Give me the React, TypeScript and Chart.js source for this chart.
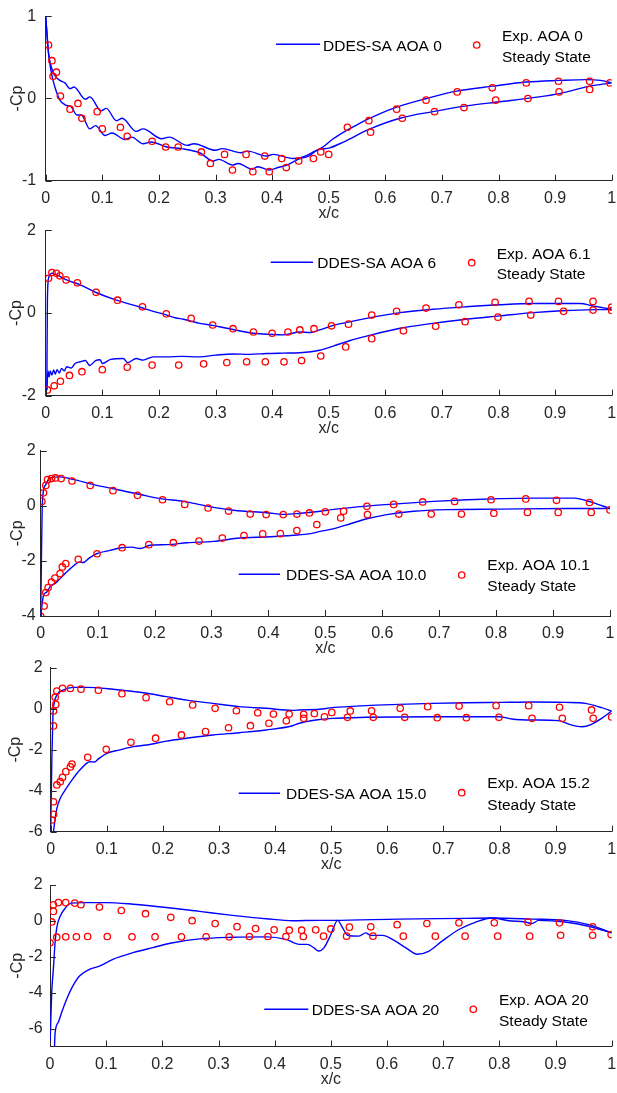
import React, { useEffect, useRef } from "react";
import { Chart, registerables } from "chart.js";

Chart.register(...registerables);

type Pt = [number, number];

const FONT = "'Liberation Sans', Arial, Helvetica, sans-serif";
const AXIS = "#262626";
const BLUE = "#0000ff";
const RED = "#ff0000";

// ---------- shared ticks ----------
const xTickValues = [0, 0.1, 0.2, 0.3, 0.4, 0.5, 0.6, 0.7, 0.8, 0.9, 1];
const xTickLabels = ["0", "0.1", "0.2", "0.3", "0.4", "0.5", "0.6", "0.7", "0.8", "0.9", "1"];
const yTicksAoa0 = [-1, 0, 1];
const yTicksAoa6 = [-2, 0, 2];
const yTicksAoa10 = [-4, -2, 0, 2];
const yTicksAoa15 = [-6, -4, -2, 0, 2];
const yTicksAoa20 = [-6, -4, -2, 0, 2];

// ---------- AOA 0 ----------
const aoa0CfdA: Pt[] = [
  [0, 1], [0.002, 0.82], [0.005, 0.55], [0.01, 0.38], [0.016, 0.28], [0.025, 0.22], [0.034, 0.19],
  [0.043, 0.12], [0.05, 0.14], [0.07, -0.01], [0.078, 0.02], [0.098, -0.15], [0.107, -0.12],
  [0.125, -0.27], [0.135, -0.24], [0.16, -0.4], [0.172, -0.37], [0.205, -0.49], [0.218, -0.47],
  [0.25, -0.57], [0.262, -0.55], [0.3, -0.63], [0.312, -0.61], [0.345, -0.66], [0.357, -0.64],
  [0.39, -0.7], [0.402, -0.68], [0.437, -0.73], [0.455, -0.71], [0.473, -0.65], [0.49, -0.59],
  [0.508, -0.49], [0.531, -0.39], [0.55, -0.32], [0.573, -0.24], [0.614, -0.12], [0.673, 0.0],
  [0.726, 0.09], [0.79, 0.15], [0.849, 0.2], [0.908, 0.22], [0.955, 0.23], [0.98, 0.22], [1.0, 0.19],
];
const aoa0CfdB: Pt[] = [
  [0, 1], [0.002, 0.8], [0.005, 0.55], [0.009, 0.35], [0.013, 0.22], [0.018, 0.1], [0.025, -0.02],
  [0.035, -0.08], [0.045, -0.1], [0.055, -0.2], [0.063, -0.2], [0.078, -0.37], [0.088, -0.33],
  [0.105, -0.45], [0.117, -0.42], [0.14, -0.5], [0.152, -0.47], [0.172, -0.55], [0.186, -0.53],
  [0.214, -0.59], [0.24, -0.61], [0.272, -0.66], [0.296, -0.76], [0.306, -0.74], [0.33, -0.81],
  [0.34, -0.79], [0.365, -0.86], [0.375, -0.83], [0.395, -0.87], [0.41, -0.84], [0.426, -0.81],
  [0.449, -0.73], [0.465, -0.7], [0.479, -0.63], [0.502, -0.6], [0.526, -0.53], [0.573, -0.37],
  [0.626, -0.24], [0.684, -0.16], [0.743, -0.09], [0.802, -0.04], [0.861, 0.01], [0.908, 0.06],
  [0.961, 0.15], [1.0, 0.19],
];
const aoa0Exp: Pt[] = [
  [0.005, 0.65], [0.011, 0.46], [0.019, 0.32], [0.013, 0.27], [0.026, 0.03], [0.043, -0.13],
  [0.057, -0.06], [0.064, -0.24], [0.091, -0.16], [0.1, -0.37], [0.132, -0.35], [0.144, -0.46],
  [0.188, -0.52], [0.212, -0.59], [0.234, -0.59], [0.275, -0.65], [0.291, -0.79], [0.316, -0.68],
  [0.33, -0.87], [0.354, -0.68], [0.366, -0.89], [0.387, -0.7], [0.395, -0.89], [0.417, -0.73],
  [0.425, -0.84], [0.447, -0.76], [0.473, -0.73], [0.486, -0.65], [0.5, -0.68], [0.533, -0.35],
  [0.571, -0.27], [0.574, -0.41], [0.62, -0.13], [0.63, -0.24], [0.672, -0.02], [0.687, -0.16],
  [0.727, 0.08], [0.739, -0.11], [0.789, 0.13], [0.795, -0.02], [0.849, 0.19], [0.852, 0.0],
  [0.906, 0.21], [0.907, 0.08], [0.961, 0.21], [0.961, 0.11], [0.997, 0.19],
];

// ---------- AOA 6 ----------
const aoa6CfdUpper: Pt[] = [
  [0.002, -1.86], [0.003, 0.3], [0.005, 0.84], [0.008, 0.93], [0.011, 0.96], [0.02, 0.92], [0.037, 0.8],
  [0.061, 0.68], [0.09, 0.49], [0.125, 0.31], [0.167, 0.14], [0.19, 0.04], [0.214, -0.05], [0.23, -0.12],
  [0.243, -0.15], [0.272, -0.25], [0.295, -0.3], [0.32, -0.37], [0.367, -0.49], [0.4, -0.52],
  [0.42, -0.53], [0.449, -0.46], [0.467, -0.47], [0.484, -0.41], [0.508, -0.3], [0.567, -0.13],
  [0.626, 0.01], [0.684, 0.09], [0.743, 0.15], [0.802, 0.2], [0.861, 0.23], [0.944, 0.23],
  [0.967, 0.17], [1.0, 0.09],
];
const aoa6CfdLower: Pt[] = [
  [0.002, -1.86], [0.004, -1.4], [0.006, -1.55], [0.008, -1.4], [0.011, -1.5], [0.014, -1.38],
  [0.017, -1.48], [0.02, -1.37], [0.024, -1.45], [0.028, -1.34], [0.033, -1.4], [0.037, -1.3],
  [0.045, -1.33], [0.052, -1.22], [0.061, -1.18], [0.07, -1.15], [0.078, -1.27], [0.088, -1.15],
  [0.096, -1.13], [0.1, -1.22], [0.115, -1.12], [0.137, -1.1], [0.145, -1.2], [0.16, -1.1],
  [0.172, -1.14], [0.19, -1.06], [0.214, -1.06], [0.24, -1.05], [0.272, -1.06], [0.3, -1.02],
  [0.331, -0.99], [0.36, -1.0], [0.39, -0.98], [0.42, -0.97], [0.449, -0.96], [0.484, -0.9],
  [0.508, -0.8], [0.537, -0.67], [0.567, -0.56], [0.626, -0.37], [0.684, -0.25], [0.743, -0.15],
  [0.802, -0.07], [0.861, 0.01], [0.92, 0.06], [1.0, 0.09],
];
const aoa6Exp: Pt[] = [
  [0.005, 0.84], [0.011, 0.98], [0.019, 0.96], [0.025, 0.9], [0.036, 0.8], [0.056, 0.73], [0.089, 0.5],
  [0.127, 0.31], [0.171, 0.15], [0.213, -0.02], [0.257, -0.13], [0.295, -0.29], [0.331, -0.38],
  [0.367, -0.46], [0.4, -0.49], [0.428, -0.46], [0.449, -0.41], [0.474, -0.38], [0.505, -0.31],
  [0.535, -0.27], [0.576, -0.05], [0.62, 0.04], [0.672, 0.12], [0.73, 0.2], [0.794, 0.26],
  [0.854, 0.28], [0.906, 0.28], [0.967, 0.28], [1.0, 0.14],
  [0.003, -1.86], [0.015, -1.76], [0.026, -1.65], [0.042, -1.51], [0.064, -1.42], [0.1, -1.37],
  [0.144, -1.31], [0.188, -1.26], [0.235, -1.26], [0.279, -1.23], [0.32, -1.2], [0.355, -1.18],
  [0.388, -1.18], [0.421, -1.18], [0.452, -1.15], [0.486, -1.04], [0.53, -0.82], [0.576, -0.62],
  [0.632, -0.43], [0.689, -0.32], [0.741, -0.21], [0.799, -0.1], [0.857, -0.05], [0.915, 0.04],
  [0.967, 0.07], [1.0, 0.06],
];

// ---------- AOA 10 ----------
const aoa10CfdUpper: Pt[] = [
  [0, -4.0], [0.003, 0.14], [0.008, 0.74], [0.016, 1.0], [0.034, 1.05], [0.057, 0.96], [0.093, 0.77],
  [0.134, 0.59], [0.175, 0.41], [0.21, 0.26], [0.251, 0.16], [0.292, -0.01], [0.339, -0.16],
  [0.397, -0.25], [0.427, -0.31], [0.456, -0.27], [0.491, -0.2], [0.515, -0.13], [0.573, -0.01],
  [0.632, 0.08], [0.69, 0.16], [0.749, 0.22], [0.808, 0.26], [0.866, 0.28], [0.937, 0.28],
  [0.966, 0.14], [1.0, -0.1],
];
const aoa10CfdLower: Pt[] = [
  [0, -4.0], [0.005, -3.25], [0.011, -3.13], [0.016, -2.95], [0.028, -2.77], [0.04, -2.52],
  [0.052, -2.28], [0.069, -2.04], [0.075, -2.06], [0.085, -1.9], [0.098, -1.74], [0.122, -1.62],
  [0.139, -1.53], [0.16, -1.5], [0.175, -1.55], [0.192, -1.43], [0.222, -1.41], [0.257, -1.34],
  [0.304, -1.29], [0.35, -1.17], [0.397, -1.13], [0.444, -1.07], [0.474, -1.01], [0.491, -0.93],
  [0.515, -0.83], [0.544, -0.65], [0.573, -0.47], [0.608, -0.32], [0.655, -0.2], [0.714, -0.14],
  [0.808, -0.12], [0.925, -0.1], [1.0, -0.1],
];
const aoa10Exp: Pt[] = [
  [0.002, 0.16], [0.005, 0.47], [0.009, 0.74], [0.012, 0.95], [0.019, 0.99], [0.026, 1.01],
  [0.036, 0.99], [0.055, 0.9], [0.087, 0.74], [0.127, 0.55], [0.17, 0.38], [0.214, 0.22],
  [0.253, 0.05], [0.294, -0.08], [0.33, -0.19], [0.368, -0.3], [0.396, -0.32], [0.426, -0.32],
  [0.45, -0.3], [0.472, -0.26], [0.5, -0.22], [0.532, -0.2], [0.573, -0.02], [0.62, 0.05],
  [0.671, 0.14], [0.727, 0.16], [0.791, 0.22], [0.852, 0.25], [0.906, 0.2], [0.964, 0.12], [1.0, -0.15],
  [0.0, -4.01], [0.006, -3.64], [0.009, -3.15], [0.013, -2.97], [0.019, -2.77], [0.025, -2.62],
  [0.034, -2.46], [0.038, -2.22], [0.044, -2.1], [0.066, -1.94], [0.099, -1.74], [0.143, -1.52],
  [0.19, -1.41], [0.233, -1.34], [0.278, -1.28], [0.319, -1.17], [0.357, -1.08], [0.39, -1.02],
  [0.421, -1.01], [0.45, -0.9], [0.485, -0.68], [0.527, -0.44], [0.574, -0.32], [0.629, -0.3],
  [0.686, -0.3], [0.739, -0.3], [0.796, -0.27], [0.855, -0.24], [0.909, -0.24], [0.967, -0.24],
];

// ---------- AOA 15 ----------
const aoa15CfdUpper: Pt[] = [
  [0.0, -6.0], [0.002, -2.5], [0.004, -0.3], [0.006, 0.25], [0.011, 0.67], [0.022, 0.91], [0.04, 1.04],
  [0.064, 1.04], [0.111, 0.95], [0.159, 0.8], [0.206, 0.59], [0.242, 0.42], [0.289, 0.26],
  [0.336, 0.1], [0.384, 0.02], [0.431, -0.08], [0.443, -0.06], [0.479, -0.03], [0.502, 0.05],
  [0.562, 0.15], [0.621, 0.21], [0.68, 0.26], [0.739, 0.29], [0.799, 0.31], [0.858, 0.33],
  [0.917, 0.31], [0.953, 0.26], [0.982, 0.05], [1.0, -0.11],
];
const aoa15CfdLower: Pt[] = [
  [0.005, -6.0], [0.008, -5.35], [0.011, -4.86], [0.017, -4.37], [0.028, -3.88], [0.04, -3.4],
  [0.052, -2.99], [0.07, -2.59], [0.078, -2.6], [0.085, -2.45], [0.1, -2.18], [0.123, -2.01],
  [0.147, -1.85], [0.171, -1.77], [0.206, -1.58], [0.242, -1.44], [0.289, -1.28], [0.336, -1.17],
  [0.384, -1.04], [0.431, -0.83], [0.443, -0.71], [0.473, -0.55], [0.502, -0.47], [0.562, -0.42],
  [0.68, -0.39], [0.799, -0.39], [0.822, -0.5], [0.858, -0.55], [0.905, -0.58], [0.929, -0.8],
  [0.947, -0.88], [0.964, -0.76], [0.982, -0.47], [1.0, -0.11],
];
const aoa15Exp: Pt[] = [
  [0.005, -0.84], [0.005, -0.11], [0.009, 0.21], [0.008, 0.56], [0.011, 0.86], [0.021, 0.99],
  [0.035, 0.99], [0.054, 0.95], [0.085, 0.9], [0.127, 0.73], [0.17, 0.54], [0.212, 0.34],
  [0.253, 0.18], [0.293, 0.02], [0.331, -0.1], [0.369, -0.2], [0.397, -0.26], [0.425, -0.26],
  [0.451, -0.27], [0.47, -0.24], [0.501, -0.18], [0.534, -0.11], [0.572, -0.1], [0.623, 0.02],
  [0.672, 0.1], [0.728, 0.13], [0.794, 0.15], [0.852, 0.15], [0.907, 0.07], [0.964, -0.06], [1.0, -0.4],
  [0.002, -5.43], [0.005, -5.15], [0.005, -4.54], [0.011, -3.72], [0.017, -3.56], [0.021, -3.35],
  [0.027, -3.07], [0.035, -2.84], [0.038, -2.7], [0.066, -2.37], [0.099, -1.98], [0.143, -1.64],
  [0.187, -1.44], [0.233, -1.28], [0.276, -1.12], [0.317, -0.93], [0.356, -0.83], [0.389, -0.71],
  [0.42, -0.59], [0.451, -0.47], [0.488, -0.4], [0.529, -0.42], [0.575, -0.42], [0.631, -0.42],
  [0.689, -0.44], [0.741, -0.44], [0.799, -0.42], [0.858, -0.47], [0.912, -0.47], [0.967, -0.47],
];

// ---------- AOA 20 ----------
const aoa20CfdUpper: Pt[] = [
  [0.0, -7.0], [0.003, -4.0], [0.006, -2.69], [0.009, -1.22], [0.012, -0.39], [0.018, 0.25],
  [0.027, 0.71], [0.038, 0.99], [0.059, 1.02], [0.1, 1.02], [0.148, 0.93], [0.207, 0.75],
  [0.266, 0.53], [0.325, 0.31], [0.385, 0.12], [0.432, 0.01], [0.479, 0.03], [0.503, 0.03],
  [0.621, 0.1], [0.74, 0.14], [0.787, 0.16], [0.858, 0.1], [0.917, 0.03], [0.959, -0.21], [1.0, -0.67],
];
const aoa20CfdLower: Pt[] = [
  [0.008, -7.0], [0.009, -6.28], [0.015, -5.63], [0.021, -5.08], [0.03, -4.34], [0.041, -3.61],
  [0.053, -3.06], [0.071, -2.69], [0.089, -2.51], [0.112, -2.14], [0.148, -1.77], [0.183, -1.49],
  [0.219, -1.22], [0.266, -1.0], [0.325, -0.91], [0.385, -0.89], [0.42, -1.03], [0.444, -1.31],
  [0.458, -1.31], [0.47, -1.5], [0.478, -1.68], [0.488, -1.49], [0.5, -0.76], [0.512, 0.03],
  [0.521, -0.39], [0.53, -0.8], [0.55, -0.85], [0.562, -0.67], [0.571, -0.81], [0.592, -0.81],
  [0.615, -1.13], [0.633, -1.49], [0.654, -1.86], [0.675, -1.68], [0.698, -1.13], [0.728, -0.48],
  [0.757, -0.08], [0.787, 0.16], [0.817, 0.01], [0.846, -0.06], [0.858, -0.15], [0.87, 0.03],
  [0.917, -0.06], [0.959, -0.3], [1.0, -0.67],
];
const aoa20Exp: Pt[] = [
  [0.0, -1.22], [0.003, -0.06], [0.006, 0.53], [0.006, 0.9], [0.015, 1.02], [0.028, 1.02],
  [0.044, 0.99], [0.055, 0.9], [0.088, 0.77], [0.127, 0.58], [0.17, 0.4], [0.215, 0.2],
  [0.253, 0.01], [0.294, -0.15], [0.333, -0.32], [0.366, -0.43], [0.399, -0.5], [0.426, -0.52],
  [0.448, -0.52], [0.473, -0.5], [0.5, -0.45], [0.533, -0.35], [0.571, -0.33], [0.618, -0.21],
  [0.671, -0.15], [0.728, -0.11], [0.791, -0.11], [0.851, -0.07], [0.907, -0.11], [0.966, -0.33],
  [0.999, -0.76],
  [0.012, -0.91], [0.028, -0.89], [0.047, -0.89], [0.067, -0.87], [0.102, -0.87], [0.146, -0.89],
  [0.187, -0.89], [0.234, -0.89], [0.278, -0.89], [0.319, -0.89], [0.355, -0.87], [0.388, -0.87],
  [0.42, -0.87], [0.451, -0.87], [0.487, -0.85], [0.528, -0.85], [0.575, -0.85], [0.629, -0.85],
  [0.686, -0.85], [0.739, -0.85], [0.797, -0.85], [0.854, -0.85], [0.909, -0.8], [0.966, -0.8],
];

// ---------- labels ----------
const cfdLabels = ["DDES-SA AOA 0", "DDES-SA AOA 6", "DDES-SA AOA 10.0", "DDES-SA AOA 15.0", "DDES-SA AOA 20"];
const expLabels = ["Exp. AOA 0", "Exp. AOA 6.1", "Exp. AOA 10.1", "Exp. AOA 15.2", "Exp. AOA 20"];
const steadyLabel = "Steady State";

// ---------- layout (page pixels) ----------
interface Legend {
  lineX1: number; lineX2: number; lineY: number; text1X: number; text1Y: number;
  markX: number; markY: number; text2X: number; text2aY: number; text2bY: number;
}
interface Panel {
  key: string; upper: Pt[]; lower: Pt[]; exp: Pt[]; yMin: number; yMax: number; yTicks: number[];
  areaTop: number; areaBottom: number; areaLeft: number; areaRight: number;
  yPad: number; yTitleX: number; cfd: string; expText: string; legend: Legend;
  canvasTop: number; canvasH: number;
}

function mkPanel(p: Omit<Panel, "canvasTop" | "canvasH">): Panel {
  const canvasTop = Math.floor(p.areaTop - 16);
  const canvasH = Math.ceil(p.areaBottom - canvasTop + 50);
  return { ...p, canvasTop, canvasH };
}

const panels: Panel[] = [
  mkPanel({
    key: "a0", upper: aoa0CfdA, lower: aoa0CfdB, exp: aoa0Exp, yMin: -1, yMax: 1, yTicks: yTicksAoa0,
    areaTop: 16.3, areaBottom: 180.7, areaLeft: 45.7, areaRight: 611.7, yPad: 9.5, yTitleX: 17.5,
    cfd: cfdLabels[0], expText: expLabels[0],
    legend: { lineX1: 276, lineX2: 320, lineY: 44.3, text1X: 323, text1Y: 50.7, markX: 476.7, markY: 45, text2X: 502, text2aY: 40.7, text2bY: 61.7 },
  }),
  mkPanel({
    key: "a6", upper: aoa6CfdUpper, lower: aoa6CfdLower, exp: aoa6Exp, yMin: -2, yMax: 2, yTicks: yTicksAoa6,
    areaTop: 230.3, areaBottom: 395.7, areaLeft: 45.7, areaRight: 614, yPad: 9.7, yTitleX: 16.7,
    cfd: cfdLabels[1], expText: expLabels[1],
    legend: { lineX1: 270.7, lineX2: 313, lineY: 262.3, text1X: 317.3, text1Y: 268, markX: 471.7, markY: 262.7, text2X: 496.7, text2aY: 259, text2bY: 279 },
  }),
  mkPanel({
    key: "a10", upper: aoa10CfdUpper, lower: aoa10CfdLower, exp: aoa10Exp, yMin: -4, yMax: 2, yTicks: yTicksAoa10,
    areaTop: 450.7, areaBottom: 616, areaLeft: 40.7, areaRight: 610, yPad: 5, yTitleX: 17.5,
    cfd: cfdLabels[2], expText: expLabels[2],
    legend: { lineX1: 238.7, lineX2: 280, lineY: 574.3, text1X: 286, text1Y: 580, markX: 461.7, markY: 575, text2X: 487.3, text2aY: 570, text2bY: 591.4 },
  }),
  mkPanel({
    key: "a15", upper: aoa15CfdUpper, lower: aoa15CfdLower, exp: aoa15Exp, yMin: -6, yMax: 2, yTicks: yTicksAoa15,
    areaTop: 667.7, areaBottom: 831.7, areaLeft: 50.7, areaRight: 613.8, yPad: 8, yTitleX: 15.5,
    cfd: cfdLabels[3], expText: expLabels[3],
    legend: { lineX1: 238.7, lineX2: 280, lineY: 793.3, text1X: 286, text1Y: 799, markX: 461.7, markY: 792.7, text2X: 487.3, text2aY: 788, text2bY: 809.7 },
  }),
  mkPanel({
    key: "a20", upper: aoa20CfdUpper, lower: aoa20CfdLower, exp: aoa20Exp, yMin: -7, yMax: 2, yTicks: yTicksAoa20,
    areaTop: 885, areaBottom: 1046.5, areaLeft: 50, areaRight: 613.8, yPad: 7.3, yTitleX: 17.5,
    cfd: cfdLabels[4], expText: expLabels[4],
    legend: { lineX1: 264.3, lineX2: 308.3, lineY: 1009.3, text1X: 311.7, text1Y: 1015, markX: 473.3, markY: 1009.3, text2X: 499, text2aY: 1004.7, text2bY: 1026.4 },
  }),
];

const TICK_FONT = 16;
const TITLE_FONT = 16;
const LEGEND_FONT = 15.5;
const X_SCALE_H = 42.4;

function buildChart(canvas: HTMLCanvasElement, p: Panel): Chart {
  const areaTopC = p.areaTop - p.canvasTop;
  const areaBottomC = p.areaBottom - p.canvasTop;
  const padBottom = p.canvasH - areaBottomC - X_SCALE_H;
  const toXY = (a: Pt[]) => a.map(([x, y]) => ({ x, y }));
  const dy = -p.canvasTop;

  const deco = {
    id: "deco_" + p.key,
    afterDraw(chart: any) {
      const ctx: CanvasRenderingContext2D = chart.ctx;
      const a = chart.chartArea;
      const xs = chart.scales.x;
      const ys = chart.scales.y;
      ctx.save();
      // inward tick marks
      ctx.strokeStyle = AXIS;
      ctx.lineWidth = 1;
      ctx.beginPath();
      for (const v of xTickValues) {
        const px = Math.round(xs.getPixelForValue(v)) + 0.5;
        ctx.moveTo(px, a.bottom);
        ctx.lineTo(px, a.bottom - 6);
      }
      for (const v of p.yTicks) {
        const py = Math.round(ys.getPixelForValue(v)) + 0.5;
        ctx.moveTo(a.left, py);
        ctx.lineTo(a.left + 6, py);
      }
      ctx.stroke();
      // legend
      const L = p.legend;
      ctx.strokeStyle = BLUE;
      ctx.lineWidth = 1.4;
      ctx.beginPath();
      ctx.moveTo(L.lineX1, L.lineY + dy);
      ctx.lineTo(L.lineX2, L.lineY + dy);
      ctx.stroke();
      ctx.strokeStyle = RED;
      ctx.lineWidth = 1.3;
      ctx.beginPath();
      ctx.arc(L.markX, L.markY + dy, 3.2, 0, Math.PI * 2);
      ctx.stroke();
      ctx.fillStyle = "#000";
      ctx.font = `${LEGEND_FONT}px ${FONT}`;
      ctx.textAlign = "left";
      ctx.textBaseline = "alphabetic";
      ctx.fillText(p.cfd, L.text1X, L.text1Y + dy);
      ctx.fillText(p.expText, L.text2X, L.text2aY + dy);
      ctx.fillText(steadyLabel, L.text2X, L.text2bY + dy);
      ctx.restore();
    },
  };

  const lineDs = (data: Pt[]) => ({
    type: "line" as const,
    data: toXY(data),
    borderColor: BLUE,
    borderWidth: 1.4,
    pointRadius: 0,
    fill: false,
    cubicInterpolationMode: "monotone" as const,
    order: 2,
  });

  return new Chart(canvas, {
    type: "line",
    data: {
      datasets: [
        lineDs(p.upper) as any,
        lineDs(p.lower) as any,
        {
          type: "scatter",
          data: toXY(p.exp),
          showLine: false,
          pointRadius: 3.2,
          pointBorderWidth: 1.3,
          pointBorderColor: RED,
          pointBackgroundColor: "rgba(0,0,0,0)",
          borderColor: RED,
          backgroundColor: "rgba(0,0,0,0)",
          order: 1,
        } as any,
      ],
    },
    options: {
      animation: false,
      responsive: false,
      maintainAspectRatio: false,
      events: [],
      layout: {
        padding: { left: 0, right: 617 - p.areaRight, top: areaTopC, bottom: padBottom },
      },
      plugins: { legend: { display: false }, tooltip: { enabled: false } },
      scales: {
        x: {
          type: "linear",
          min: 0,
          max: 1,
          afterBuildTicks: (s: any) => {
            s.ticks = xTickValues.map((v) => ({ value: v }));
          },
          afterFit: (s: any) => {
            s.height = X_SCALE_H;
            s.paddingLeft = 0;
            s.paddingRight = 0;
          },
          grid: { display: false, drawTicks: false },
          border: { display: true, color: AXIS, width: 1 },
          ticks: {
            color: AXIS,
            font: { family: FONT, size: TICK_FONT },
            padding: 8,
            maxRotation: 0,
            autoSkip: false,
            callback: (_v: any, i: number) => xTickLabels[i],
          },
          title: {
            display: true,
            text: "x/c",
            color: AXIS,
            font: { family: FONT, size: TITLE_FONT },
            padding: { top: 0, bottom: 0 },
          },
        },
        y: {
          type: "linear",
          min: p.yMin,
          max: p.yMax,
          afterBuildTicks: (s: any) => {
            s.ticks = p.yTicks.map((v) => ({ value: v }));
          },
          afterFit: (s: any) => {
            s.width = p.areaLeft;
            s.paddingTop = 0;
            s.paddingBottom = 0;
          },
          grid: { display: false, drawTicks: false },
          border: { display: true, color: AXIS, width: 1 },
          ticks: {
            color: AXIS,
            font: { family: FONT, size: TICK_FONT },
            padding: p.yPad,
            callback: (v: any) => String(v),
          },
          title: {
            display: true,
            text: "-Cp",
            color: AXIS,
            font: { family: FONT, size: TITLE_FONT },
            padding: { top: p.yTitleX - (TITLE_FONT * 1.2) / 2, bottom: 0 },
          },
        },
      },
    } as any,
    plugins: [deco],
  });
}

function PanelCanvas({ p }: { p: Panel }) {
  const ref = useRef<HTMLCanvasElement>(null);
  useEffect(() => {
    if (!ref.current) return;
    const chart = buildChart(ref.current, p);
    return () => chart.destroy();
  }, [p]);
  return (
    <canvas
      ref={ref}
      width={617}
      height={p.canvasH}
      style={{ position: "absolute", left: 0, top: p.canvasTop, width: 617, height: p.canvasH }}
    />
  );
}

export default function App() {
  return (
    <div style={{ position: "absolute", left: 0, top: 0, width: 617, height: 1093, background: "#fff", overflow: "hidden" }}>
      {panels.map((p) => (
        <PanelCanvas key={p.key} p={p} />
      ))}
    </div>
  );
}
